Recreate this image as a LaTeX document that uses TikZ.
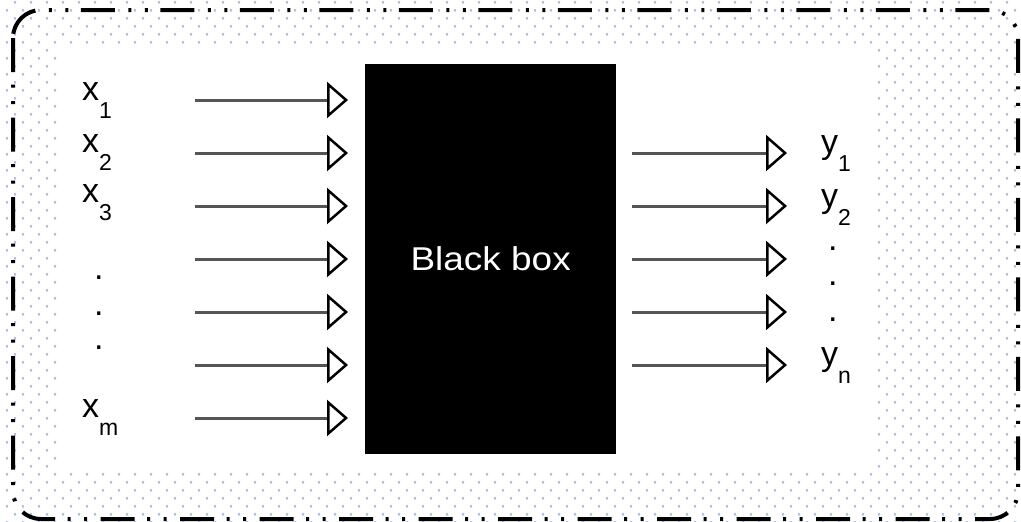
\documentclass[tikz,border=0pt]{standalone}
\usepackage{fontspec}
\setmainfont{Liberation Sans}
\newfontfamily\boxfont[FakeStretch=1.12]{Liberation Sans}
\usetikzlibrary{arrows.meta}

\definecolor{gridblue}{RGB}{178,194,228}
\definecolor{wiregray}{RGB}{85,85,85}

\newcommand{\siglab}[2]{{\fontsize{34}{34}\selectfont #1}\raisebox{-18pt}{\fontsize{23}{23}\selectfont #2}}

\tikzset{
  wire/.style={draw=wiregray, line width=3pt, -{Triangle[open,length=21pt,width=36pt,line width=2.5pt,color=black]}},
  lab/.style={anchor=base west, inner sep=0pt, font=\fontsize{34}{34}\selectfont},
}

\begin{document}
\begin{tikzpicture}[x=1pt,y=-1pt]
\useasboundingbox (0,0) rectangle (1021,522);

\fill[gridblue] \foreach \j [evaluate=\j as \off using {8*mod(\j+1,2)}] in {0,...,65} {
  \foreach \i in {0,...,63} { (\i*16+7+\off-1.2, \j*8+2.3-1.2) rectangle +(2.4,2.4) } };
\fill[white] (59,47) rectangle (876,471);
\draw[line width=4pt, rounded corners=28pt, dash pattern=on 34pt off 12.5pt on 3pt off 13.5pt on 3pt off 13.5pt] (13,10) rectangle (1018,519);

\node[fill=black, anchor=north west, minimum width=251pt, minimum height=390pt, inner sep=0pt, text=white, font=\boxfont\fontsize{33}{33}\selectfont] (box) at (365,64) {\raisebox{-4pt}{Black box}};

\foreach \k/\yy in {1/100,2/153,3/206,4/259,5/312,6/365,7/418} {
  \coordinate (in\k) at (195,\yy);
  \draw[wire, shorten >=17pt] (in\k) -- (in\k -| box.west);
}
\foreach \k/\yy in {1/153,2/206,3/259,4/312,5/365} {
  \coordinate (out\k) at (787,\yy);
  \draw[wire, shorten <=16pt] (out\k -| box.east) -- (out\k);
}

\node[lab] (x1) at (82,100) {\siglab{x}{1}};
\node[lab] (x2) at (82,152) {\siglab{x}{2}};
\node[lab] (x3) at (82,202) {\siglab{x}{3}};
\node[lab] (xd1) at (94,279) {.};
\node[lab] (xd2) at (94,315) {.};
\node[lab] (xd3) at (94,349) {.};
\node[lab] (xm) at (82,417) {\siglab{x}{m}};

\node[lab] (y1) at (821,153) {\siglab{y}{1}};
\node[lab] (y2) at (821,207) {\siglab{y}{2}};
\node[lab] (yd1) at (828,250) {.};
\node[lab] (yd2) at (828,285) {.};
\node[lab] (yd3) at (828,321) {.};
\node[lab] (yn) at (821,365) {\siglab{y}{n}};
\end{tikzpicture}
\end{document}
